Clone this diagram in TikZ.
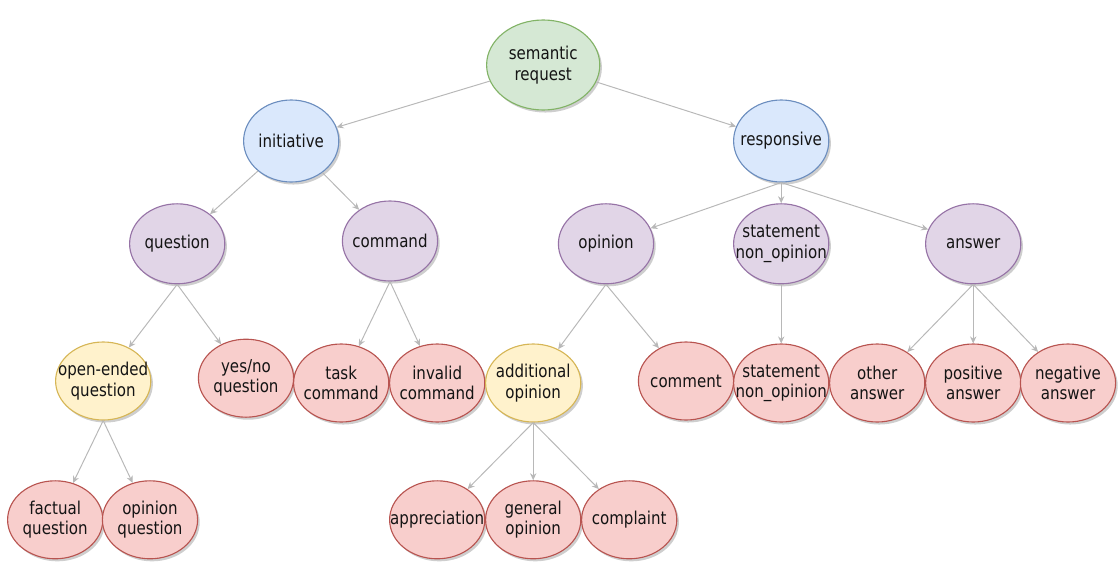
\documentclass[tikz,border=0pt]{standalone}
\usepackage{fontspec}
\setmainfont{DejaVu Sans}[FakeStretch=0.85]
\usepackage{xcolor}
\usepackage{tikz}
\usetikzlibrary{shapes,arrows.meta,shadows}

\definecolor{grnfill}{HTML}{D5E8D4}
\definecolor{grndraw}{HTML}{82B366}
\definecolor{bluefill}{HTML}{DAE8FC}
\definecolor{bluedraw}{HTML}{6C8EBF}
\definecolor{purpfill}{HTML}{E1D5E7}
\definecolor{purpdraw}{HTML}{9673A6}
\definecolor{yelfill}{HTML}{FFF2CC}
\definecolor{yeldraw}{HTML}{D6B656}
\definecolor{redfill}{HTML}{F8CECC}
\definecolor{reddraw}{HTML}{B85450}
\definecolor{linkgray}{HTML}{B8B8B8}

\begin{document}
\begin{tikzpicture}[
    bubble/.style={ellipse, draw, line width=0.8pt, minimum width=2.38cm, minimum height=1.95cm,
        inner xsep=-10pt, inner ysep=0pt, align=center, text=black!92,
        font=\fontsize{12.6}{14.4}\selectfont,
        drop shadow={shadow xshift=1.5pt, shadow yshift=-1.8pt, opacity=0.35, fill=black!55}},
    rootnode/.style={bubble, fill=grnfill, draw=grndraw, minimum width=2.83cm, minimum height=2.25cm},
    kindnode/.style={bubble, fill=bluefill, draw=bluedraw, minimum height=2.05cm},
    actnode/.style={bubble, fill=purpfill, draw=purpdraw, minimum height=2.0cm},
    subnode/.style={bubble, fill=yelfill, draw=yeldraw},
    leafnode/.style={bubble, fill=redfill, draw=reddraw},
    link/.style={draw=linkgray, line width=0.7pt, -{Stealth[length=5pt,width=4.5pt]}}
]
    \useasboundingbox (0,0) rectangle (27.95,14.075);

    % Root
    \node[rootnode] (semreq) at (13.58,12.45) {semantic\\request};

    % Level 1
    \node[kindnode] (initiative) at (7.28,10.55) {initiative};
    \node[kindnode] (responsive) at (19.53,10.55) {responsive};

    % Level 2
    \node[actnode] (question) at (4.43,7.98) {question};
    \node[actnode] (command) at (9.75,8.05) {command};
    \node[actnode] (opinion) at (15.15,7.98) {opinion};
    \node[actnode] (statement) at (19.53,7.98) {statement\\non\_opinion};
    \node[actnode] (answer) at (24.33,7.98) {answer};

    % Level 3
    \node[subnode] (openended) at (2.58,4.55) {open-ended\\question};
    \node[leafnode] (yesno) at (6.15,4.62) {yes/no\\question};
    \node[leafnode] (task) at (8.53,4.5) {task\\command};
    \node[leafnode] (invalid) at (10.93,4.5) {invalid\\command};
    \node[subnode] (addopinion) at (13.33,4.5) {additional\\opinion};
    \node[leafnode] (comment) at (17.15,4.55) {comment};
    \node[leafnode] (statementleaf) at (19.53,4.5) {statement\\non\_opinion};
    \node[leafnode] (other) at (21.93,4.5) {other\\answer};
    \node[leafnode] (positive) at (24.33,4.5) {positive\\answer};
    \node[leafnode] (negative) at (26.7,4.5) {negative\\answer};

    % Level 4
    \node[leafnode] (factual) at (1.38,1.08) {factual\\question};
    \node[leafnode] (opquestion) at (3.75,1.08) {opinion\\question};
    \node[leafnode] (appreciation) at (10.93,1.08) {appreciation};
    \node[leafnode] (general) at (13.33,1.08) {general\\opinion};
    \node[leafnode] (complaint) at (15.73,1.08) {complaint};

    % Links
    \draw[link] (semreq) -- (initiative);
    \draw[link] (semreq) -- (responsive);
    \draw[link] (initiative) -- (question);
    \draw[link] (initiative) -- (command);
    \draw[link] (responsive.south) -- (opinion);
    \draw[link] (responsive.south) -- (statement);
    \draw[link] (responsive.south) -- (answer);
    \draw[link] (question.south) -- (openended);
    \draw[link] (question.south) -- (yesno);
    \draw[link] (command.south) -- (task);
    \draw[link] (command.south) -- (invalid);
    \draw[link] (opinion.south) -- (addopinion);
    \draw[link] (opinion.south) -- (comment);
    \draw[link] (statement) -- (statementleaf);
    \draw[link] (answer.south) -- (other);
    \draw[link] (answer.south) -- (positive);
    \draw[link] (answer.south) -- (negative);
    \draw[link] (openended.south) -- (factual);
    \draw[link] (openended.south) -- (opquestion);
    \draw[link] (addopinion.south) -- (appreciation);
    \draw[link] (addopinion.south) -- (general);
    \draw[link] (addopinion.south) -- (complaint);
\end{tikzpicture}
\end{document}
